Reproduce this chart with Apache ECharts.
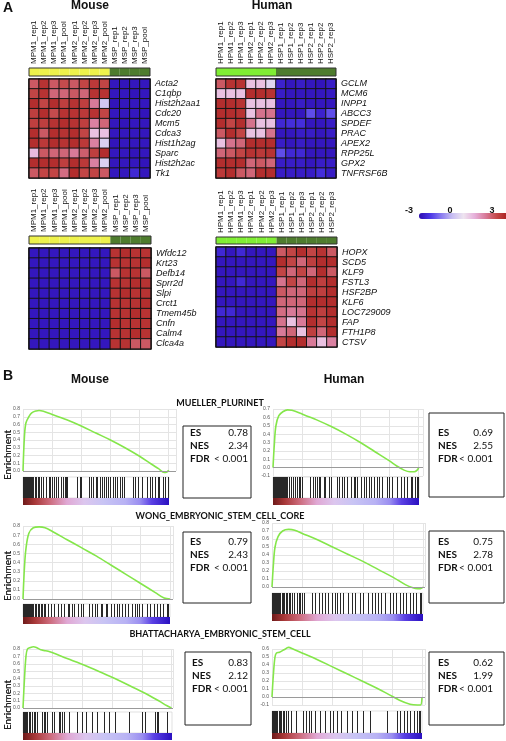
<!DOCTYPE html>
<html><head><meta charset="utf-8">
<script src="https://cdn.jsdelivr.net/npm/echarts@6/dist/echarts.min.js"></script>
<style>html,body{margin:0;padding:0;background:#fff}#c{width:506px;height:741px}</style>
</head><body><div id="c"></div>
<script>
// ---------------- DATA ----------------
const mouseCols = ['MPM1_rep1','MPM1_rep2','MPM1_rep3','MPM1_pool','MPM2_rep1','MPM2_rep2','MPM2_rep3','MPM2_pool','MSP_rep1','MSP_rep2','MSP_rep3','MSP_pool'];
const mouseGroups = ['PM','PM','PM','PM','PM','PM','PM','PM','SP','SP','SP','SP'];
const humanCols = ['HPM1_rep1','HPM1_rep2','HPM1_rep3','HPM2_rep1','HPM2_rep2','HPM2_rep3','HSP1_rep1','HSP1_rep2','HSP1_rep3','HSP2_rep1','HSP2_rep2','HSP2_rep3'];
const humanGroups = ['PM','PM','PM','PM','PM','PM','SP','SP','SP','SP','SP','SP'];

const mouseUpGenes = ['Acta2','C1qbp','Hist2h2aa1','Cdc20','Mcm5','Cdca3','Hist1h2ag','Sparc','Hist2h2ac','Tk1'];
const mouseUpVals = [
  [2.0,2.6,2.0,2.2,2.0,2.3,2.5,2.3,-2.8,-2.85,-2.8,-2.8],
  [2.3,2.6,1.8,1.8,2.0,1.8,2.6,2.6,-2.8,-2.8,-2.85,-2.8],
  [2.7,2.3,2.7,2.4,2.6,2.4,1.5,-0.6,-2.85,-2.8,-2.8,-2.8],
  [2.4,2.7,2.2,2.6,2.6,2.5,2.6,2.3,-2.8,-2.8,-2.8,-2.85],
  [2.4,2.4,2.6,2.7,2.6,2.4,1.4,1.8,-2.8,-2.85,-2.8,-2.8],
  [2.7,2.0,2.7,2.6,2.7,2.3,0.5,0.5,-2.8,-2.8,-2.8,-2.8],
  [2.7,2.5,2.7,2.6,2.7,2.5,1.4,-0.4,-2.85,-2.8,-2.8,-2.8],
  [0.6,2.0,1.8,1.8,1.5,1.9,2.4,2.7,-2.8,-2.8,-2.85,-2.8],
  [2.7,2.7,2.7,2.4,2.7,2.5,1.4,-0.4,-2.8,-2.8,-2.8,-2.85],
  [2.0,2.3,2.3,1.7,2.7,2.3,2.3,2.0,-2.8,-2.8,-2.5,-2.8]
];
const humanUpGenes = ['GCLM','MCM6','INPP1','ABCC3','SPDEF','PRAC','APEX2','RPP25L','GPX2','TNFRSF6B'];
const humanUpVals = [
  [2.0,2.6,2.6,0.5,0.5,-0.3,-2.6,-2.8,-2.7,-2.8,-2.85,-2.7],
  [0.5,0.5,0.5,2.7,2.7,2.6,-2.7,-2.8,-2.8,-2.8,-2.8,-2.75],
  [2.7,2.7,2.6,0.5,0.5,0.5,-2.8,-2.8,-2.7,-2.8,-2.8,-2.8],
  [2.7,2.7,2.6,0.5,1.6,1.6,-2.8,-2.8,-2.8,-2.0,-2.6,-2.0],
  [2.7,2.3,2.7,1.6,0.5,0.5,-2.5,-2.4,-2.4,-2.8,-2.8,-2.7],
  [2.0,2.7,2.3,0.5,0.5,1.6,-2.8,-2.8,-2.7,-2.7,-2.8,-2.7],
  [0.5,1.6,1.8,2.7,2.7,2.7,-2.7,-2.8,-2.7,-2.8,-2.8,-2.8],
  [1.8,2.0,2.3,2.6,2.5,2.6,-2.0,-2.5,-2.5,-2.8,-2.8,-2.8],
  [2.7,2.7,2.7,1.8,2.0,1.8,-2.7,-2.7,-2.7,-2.8,-2.7,-2.7],
  [2.5,2.7,2.0,1.8,2.7,2.7,-2.7,-2.7,-2.7,-2.7,-2.4,-2.7]
];
const mouseDownGenes = ['Wfdc12','Krt23','Defb14','Sprr2d','Slpi','Crct1','Tmem45b','Cnfn','Calm4','Clca4a'];
const mouseDownVals = [
  [-2.8,-2.8,-2.8,-2.8,-2.8,-2.8,-2.8,-2.8,2.6,2.7,2.6,2.6],
  [-2.8,-2.8,-2.8,-2.8,-2.8,-2.8,-2.8,-2.8,2.6,2.6,2.6,2.7],
  [-2.8,-2.8,-2.8,-2.8,-2.8,-2.8,-2.8,-2.8,2.0,2.6,2.6,2.0],
  [-2.8,-2.8,-2.8,-2.8,-2.8,-2.8,-2.8,-2.8,2.6,2.6,2.7,2.6],
  [-2.8,-2.8,-2.8,-2.8,-2.8,-2.8,-2.8,-2.8,2.6,2.7,2.6,2.6],
  [-2.8,-2.8,-2.8,-2.8,-2.8,-2.8,-2.8,-2.8,2.6,2.6,2.6,2.7],
  [-2.8,-2.8,-2.8,-2.8,-2.8,-2.8,-2.8,-2.8,2.6,2.6,2.7,2.6],
  [-2.8,-2.8,-2.8,-2.8,-2.8,-2.8,-2.8,-2.8,2.7,2.6,2.6,2.6],
  [-2.8,-2.8,-2.8,-2.8,-2.8,-2.8,-2.8,-2.8,2.6,2.6,2.7,2.6],
  [-2.8,-2.8,-2.8,-2.8,-2.8,-2.8,-2.8,-2.8,2.6,2.6,2.0,2.0]
];
const humanDownGenes = ['HOPX','SCD5','KLF9','FSTL3','HSF2BP','KLF6','LOC729009','FAP','FTH1P8','CTSV'];
const humanDownVals = [
  [-2.5,-2.8,-2.5,-2.8,-2.8,-2.8,2.0,2.3,2.7,2.3,2.6,2.0],
  [-2.8,-2.8,-2.8,-2.8,-2.8,-2.8,2.7,2.3,1.8,2.4,2.7,2.7],
  [-2.8,-2.8,-2.8,-2.8,-2.8,-2.8,2.3,1.8,2.3,1.8,2.7,2.0],
  [-2.8,-2.8,-2.5,-2.8,-2.8,-2.8,1.6,2.3,1.8,2.7,2.4,2.7],
  [-2.8,-2.8,-2.8,-2.8,-2.8,-2.8,2.0,1.8,1.8,2.4,2.4,2.7],
  [-2.8,-2.8,-2.8,-2.8,-2.8,-2.8,1.8,1.8,1.8,2.7,2.7,2.7],
  [-2.5,-2.5,-2.8,-2.8,-2.8,-2.8,1.7,1.5,1.6,2.6,2.4,2.7],
  [-2.8,-2.8,-2.8,-2.8,-2.8,-2.8,1.6,0.5,1.5,2.7,2.3,2.7],
  [-2.8,-2.8,-2.8,-2.8,-2.8,-2.8,1.5,1.8,0.5,2.4,1.8,2.7],
  [-2.8,-2.8,-2.8,-2.8,-2.8,-2.8,2.3,2.7,2.7,1.5,0.5,1.4]
];
const scaleTicks = ['-3','0','3'];

// GSEA
const geneSets = ['MUELLER_PLURINET','WONG_EMBRYONIC_STEM_CELL_CORE','BHATTACHARYA_EMBRYONIC_STEM_CELL'];
const mouseES = ['0.78','0.79','0.83'];
const mouseNES = ['2.34','2.43','2.12'];
const mouseFDR = ['< 0.001','< 0.001','< 0.001'];
const humanES = ['0.69','0.75','0.62'];
const humanNES = ['2.55','2.78','1.99'];
const humanFDR = ['< 0.001','< 0.001','< 0.001'];

// running enrichment score, [rank %, ES]
const mouseCurve1 = [[0,0],[1,0.45],[2,0.62],[4,0.70],[6,0.75],[9,0.775],[11,0.78],[14,0.77],[20,0.73],[30,0.66],[40,0.58],[50,0.49],[60,0.40],[70,0.30],[80,0.19],[88,0.09],[93,0.03],[97,-0.02],[99,-0.01],[100,0.01]];
const humanCurve1 = [[0,0],[1,0.3],[2,0.5],[4,0.62],[7,0.67],[10,0.69],[13,0.685],[20,0.64],[30,0.57],[40,0.49],[50,0.40],[60,0.30],[70,0.19],[80,0.08],[85,0.02],[90,-0.03],[94,-0.05],[97,-0.05],[99,-0.03],[100,0.0]];
const mouseCurve2 = [[0,0],[1,0.35],[2,0.55],[4,0.72],[7,0.78],[11,0.79],[15,0.78],[20,0.74],[30,0.65],[40,0.56],[50,0.47],[60,0.37],[70,0.27],[80,0.17],[90,0.07],[96,0.01],[100,0.0]];
const humanCurve2 = [[0,0],[1,0.3],[2,0.5],[4,0.63],[7,0.70],[11,0.72],[15,0.71],[20,0.67],[30,0.59],[40,0.50],[50,0.41],[60,0.32],[70,0.22],[80,0.12],[88,0.03],[93,-0.01],[96,-0.02],[98,-0.02],[100,0.0]];
const mouseCurve3 = [[0,0],[1,0.4],[2,0.7],[3,0.8],[5,0.82],[7,0.83],[9,0.82],[12,0.79],[14,0.78],[17,0.77],[25,0.71],[35,0.63],[45,0.55],[55,0.46],[65,0.37],[75,0.27],[85,0.17],[92,0.09],[97,0.03],[100,0.0]];
const humanCurve3 = [[0,0],[1,0.3],[2,0.5],[3,0.55],[5,0.56],[8,0.59],[11,0.62],[14,0.6],[20,0.55],[30,0.47],[40,0.38],[50,0.29],[60,0.2],[70,0.11],[78,0.03],[85,-0.04],[92,-0.09],[97,-0.1],[99,-0.1],[100,0.0]];

// hit positions (rank %)
const mouseHits1 = [0,0.7,1.4,2.1,2.8,3.5,4.2,4.9,5.6,6.3,7,8,9,10,11,12,13.7,16,17.8,18.8,20.1,21.3,22.9,24,25.9,27.5,28.6,29.7,30.4,37.1,38.9,40,45.3,46.9,48,49.9,51,52.6,53.8,55.4,56.8,58.4,59.5,61.8,62.9,64.5,66.4,67.5,69.1,75.5,76.7,79,81.2,84.7,87,88.1,90.4,92.7,93.4,96.1,97.3,99.1];
const humanHits1 = [0,0.7,1.4,2.1,2.8,3.5,4.2,4.9,5.6,6.3,7,7.7,8.4,9.1,9.6,10.8,12.4,13.7,15.3,16.5,17.6,18.8,19.9,25.6,27.5,29.1,30.2,31.4,32.5,34.8,35.9,38.2,39.4,43.9,45.1,47.4,48.5,50.8,53.1,55.4,56.5,57.7,60,62.2,63.4,65.7,66.8,69.1,70.9,72.5,74.8,78.3,79.4,81.7,85.1,87.4,89.7,92,94.3,95.4,97,98.4,99.5];
const mouseHits2 = [0,0.7,1.4,2.1,2.8,3.5,4.2,4.9,5.6,6.3,7,8,9,10,11,12,13,14,15,16.9,19.1,21.3,23.6,25.8,28.1,30.3,31.5,33,34.8,37.1,39.3,41.1,44.9,47.2,48.8,50.6,52.8,53.9,56.2,57.3,59.6,61.8,64,65.2,67.4,69.7,71.2,74.2,76.4,77.5,78.7,80.9,84.3,86.5,88.8,91,93.3,95.5,97.8,98.9];
const humanHits2 = [0,0.7,1.4,2.1,2.8,3.5,4.2,4.9,5.6,6.3,7,8,9,10,11,12,13.2,14.3,16.5,17.6,18.7,19.8,20.9,26.4,28.6,30.8,33,35.2,37.4,39.6,41.8,43.3,45.1,47.3,50.5,52.7,54.9,58.2,60.4,63.7,65.9,68.1,70.3,72.5,74.7,78,80.2,82.4,84.6,86.8,89,91.2,93.4,95.6,97.8,98.9];
const mouseHits3 = [0,0.7,1.4,2.1,2.8,3.8,4.9,6,7.2,8.3,9.4,12.8,13.9,15,16.1,19.5,20.6,23.9,25.1,26.2,27.3,30.6,36.2,39.6,42.5,46.3,49.7,54.1,57.5,62,70.9,79.9,82.1,88.8,89.9,90.4,96.6];
const humanHits3 = [0,0.7,1.4,2.1,2.8,3.5,4.5,5.4,6.3,7.2,8.3,9.4,10.5,12.8,16.1,20.6,22.8,24.6,26.2,28.4,31.8,35.1,38.5,40.7,43,46.3,49.7,53,56.4,60.9,65.3,76.5,83.2,85.5,87.7,89.9,92.2,94.4,96.6,97.8,98.9];

// ---------------- BUILD ----------------
const chart = echarts.init(document.getElementById('c'), null, {renderer:'canvas', width:506, height:741});
const grids=[], xAxes=[], yAxes=[], series=[], graphics=[], hmIdx=[];
const AR = 'Liberation Sans', CAL = 'Lato';
function addGrid(r){ grids.push(Object.assign({containLabel:false}, r)); return grids.length-1; }

function heatmap(cols, groups, gColors, genes, vals, cell, bar){
  const gi = addGrid({left:cell.left, top:cell.top, width:cell.width, height:cell.height, show:true, borderColor:'#111', borderWidth:1.2, z:5});
  xAxes.push({gridIndex:gi, type:'category', data:cols, axisLabel:{show:false}, axisTick:{show:false}, axisLine:{show:false}, splitLine:{show:false}});
  yAxes.push({gridIndex:gi, type:'category', data:genes, inverse:true, position:'right',
    axisLabel:{interval:0, fontStyle:'italic', fontSize:9, color:'#111', margin:5, fontFamily:AR}, axisTick:{show:false}, axisLine:{show:false}});
  const data=[]; vals.forEach((row,r)=>row.forEach((v,c)=>data.push([c,r,v])));
  series.push({type:'heatmap', xAxisIndex:xAxes.length-1, yAxisIndex:yAxes.length-1, data,
    itemStyle:{borderColor:'#151515', borderWidth:1}, emphasis:{disabled:true}, silent:true});
  hmIdx.push(series.length-1);
  const bi = addGrid({left:bar.left, top:bar.top, width:bar.width, height:bar.height, show:true, borderColor:'#333', borderWidth:1, z:5});
  xAxes.push({gridIndex:bi, type:'category', data:cols, position:'top',
    axisLabel:{rotate:90, fontSize:8, margin:4, interval:0, color:'#111', fontFamily:AR}, axisTick:{show:false}, axisLine:{show:false}});
  yAxes.push({gridIndex:bi, type:'value', min:0, max:1, show:false});
  series.push({type:'bar', xAxisIndex:xAxes.length-1, yAxisIndex:yAxes.length-1, barWidth:'100%', silent:true,
    data:groups.map(g=>({value:1, itemStyle:{color:gColors[g]}}))});
}

heatmap(mouseCols, mouseGroups, {PM:'#eef24c', SP:'#4e7c2e'}, mouseUpGenes, mouseUpVals,
  {left:29, top:79, width:121, height:99}, {left:29, top:68, width:121, height:8});
heatmap(humanCols, humanGroups, {PM:'#80ee34', SP:'#4e7c2e'}, humanUpGenes, humanUpVals,
  {left:216, top:79, width:120, height:99}, {left:216, top:68, width:120, height:8});
heatmap(mouseCols, mouseGroups, {PM:'#eef24c', SP:'#4e7c2e'}, mouseDownGenes, mouseDownVals,
  {left:29, top:248, width:122, height:101}, {left:29, top:236, width:122, height:8});
heatmap(humanCols, humanGroups, {PM:'#80ee34', SP:'#4e7c2e'}, humanDownGenes, humanDownVals,
  {left:216, top:247, width:121, height:100}, {left:216, top:237, width:121, height:7});

const stripGrad = () => new echarts.graphic.LinearGradient(0,0,1,0,[
  {offset:0,color:'#6e1a1a'},{offset:0.08,color:'#a83838'},{offset:0.18,color:'#cc6a7a'},{offset:0.3,color:'#e0a8d4'},
  {offset:0.42,color:'#dcc6ee'},{offset:0.55,color:'#c8c4f4'},{offset:0.7,color:'#b8b2f4'},{offset:0.8,color:'#9a8ef0'},
  {offset:0.88,color:'#5a40e4'},{offset:1,color:'#2a10c0'}]);

function gsea(curve, hits, L, stats){
  const gi = addGrid(L.line);
  xAxes.push({gridIndex:gi, type:'value', min:0, max:L.xmax, interval:20, axisLabel:{show:false}, axisTick:{show:false}, axisLine:{show:false},
    splitLine:{lineStyle:{color:'#e4e4e4', width:1}}});
  yAxes.push({gridIndex:gi, type:'value', min:L.ymin, max:L.ymax, interval:0.1,
    axisLabel:{fontSize:5, color:'#555', margin:3, formatter:v=>v.toFixed(1)}, axisTick:{show:false}, axisLine:{show:false},
    splitLine:{lineStyle:{color:'#e4e4e4'}}});
  series.push({type:'line', xAxisIndex:xAxes.length-1, yAxisIndex:yAxes.length-1, data:curve, smooth:0.35, showSymbol:false, clip:false,
    lineStyle:{color:'#84e64a', width:1.6}, silent:true,
    markLine:{silent:true, symbol:'none', label:{show:false}, lineStyle:{color:'#9a9a9a', width:1, type:'solid'}, data:[{yAxis:0}]}});
  const hi = addGrid(Object.assign({show:true, borderColor:'#cfcfcf', borderWidth:0.6}, L.hits));
  xAxes.push({gridIndex:hi, type:'value', min:0, max:100, show:false});
  yAxes.push({gridIndex:hi, type:'value', min:0, max:1, show:false});
  series.push({type:'custom', xAxisIndex:xAxes.length-1, yAxisIndex:yAxes.length-1, silent:true,
    data:hits.map(h=>[h,1]), encode:{x:0,y:1},
    renderItem:(params, api)=>{
      const x = Math.round(api.coord([api.value(0),0])[0]); const cs = params.coordSys;
      return {type:'rect', shape:{x:x, y:cs.y, width:1, height:cs.height}, style:{fill:'#111', opacity:0.9}};
    }});
  const si = addGrid(L.strip);
  xAxes.push({gridIndex:si, type:'category', data:['rank'], show:false});
  yAxes.push({gridIndex:si, type:'value', min:0, max:1, show:false});
  series.push({type:'bar', xAxisIndex:xAxes.length-1, yAxisIndex:yAxes.length-1, barWidth:'100%', silent:true,
    data:[1], itemStyle:{color:stripGrad()}});
  // stats box
  const b = L.box;
  graphics.push({type:'rect', shape:{x:b.x, y:b.y, width:b.w, height:b.h}, style:{fill:'#fff', stroke:'#222', lineWidth:1}, z:10});
  const labs = ['ES','NES','FDR'];
  labs.forEach((lab,i)=>{
    const y = L.textY + i*13;
    graphics.push({type:'text', x:b.x+L.labX, y, z:11, style:{text:lab, fontFamily:CAL, fontWeight:'bold', fontSize:10, fill:'#111', align:'left', verticalAlign:'middle'}});
    graphics.push({type:'text', x:b.x+L.valX, y, z:11, style:{text:stats[i], fontFamily:CAL, fontSize:10, fill:'#111', align:'right', verticalAlign:'middle'}});
  });
  graphics.push({type:'text', x:8, y:L.enrY, rotation:Math.PI/2, style:{text:'Enrichment', fontFamily:CAL, fontSize:10, fill:'#222', align:'center', verticalAlign:'middle'}});
}

const layouts = [
  {line:{left:23,top:409,width:153,height:62}, xmax:105, ymin:0, ymax:0.8, hits:{left:23,top:477,width:146,height:21}, strip:{left:23,top:498,width:146,height:7},
   box:{x:183,y:426,w:68,h:72}, textY:433, labX:7, valX:65, enrY:455},
  {line:{left:273,top:409,width:150,height:67}, xmax:103, ymin:-0.1, ymax:0.7, hits:{left:273,top:477,width:146,height:21}, strip:{left:273,top:498,width:146,height:7},
   box:{x:429,y:413,w:75,h:84}, textY:433, labX:9, valX:64, enrY:455},
  {line:{left:23,top:526,width:150,height:73}, xmax:102, ymin:0, ymax:0.8, hits:{left:23,top:604,width:147,height:13}, strip:{left:23,top:617,width:147,height:7},
   box:{x:183,y:532,w:68,h:71}, textY:542, labX:7, valX:65, enrY:576},
  {line:{left:272,top:523,width:153,height:64}, xmax:101, ymin:0, ymax:0.8, hits:{left:272,top:593,width:151,height:21}, strip:{left:272,top:614,width:151,height:7},
   box:{x:429,y:531,w:75,h:72}, textY:542, labX:9, valX:64, enrY:576},
  {line:{left:23,top:649,width:150,height:59}, xmax:101, ymin:0, ymax:0.8, hits:{left:23,top:712,width:149,height:21}, strip:{left:23,top:733,width:149,height:7},
   box:{x:185,y:652,w:66,h:73}, textY:663, labX:7, valX:63, enrY:705},
  {line:{left:272,top:649,width:153,height:56}, xmax:102, ymin:-0.1, ymax:0.6, hits:{left:272,top:711,width:150,height:22}, strip:{left:272,top:733,width:150,height:6},
   box:{x:429,y:652,w:75,h:73}, textY:663, labX:9, valX:64, enrY:705}
];
const curves = [mouseCurve1, humanCurve1, mouseCurve2, humanCurve2, mouseCurve3, humanCurve3];
const hitsAll = [mouseHits1, humanHits1, mouseHits2, humanHits2, mouseHits3, humanHits3];
for (let r=0; r<3; r++){
  gsea(curves[2*r], hitsAll[2*r], layouts[2*r], [mouseES[r], mouseNES[r], mouseFDR[r]]);
  gsea(curves[2*r+1], hitsAll[2*r+1], layouts[2*r+1], [humanES[r], humanNES[r], humanFDR[r]]);
}
const setTitleY = [403, 516, 634];
geneSets.forEach((s,i)=>graphics.push({type:'text', x:220, y:setTitleY[i], style:{text:s, fontFamily:CAL, fontWeight:'bold', fontSize:9, fill:'#111', align:'center', verticalAlign:'middle'}}));

const T = (text,x,y,size,align)=>graphics.push({type:'text', x, y, style:{text, fontFamily:AR, fontWeight:'bold', fontSize:size, fill:'#111', align:align||'center', verticalAlign:'middle'}});
T('A', 3, 8, 14, 'left'); T('Mouse', 90, 6, 12); T('Human', 272, 6, 12);
T('B', 3, 376, 14, 'left'); T('Mouse', 90, 380, 12); T('Human', 344, 380, 12);
const tickX = [409, 450, 492];
scaleTicks.forEach((t,i)=>T(t, tickX[i], 211, 9));

chart.setOption({
  animation:false,
  backgroundColor:'#fff',
  grid:grids, xAxis:xAxes, yAxis:yAxes, series,
  visualMap:{type:'continuous', min:-3, max:3, orient:'horizontal', left:404, top:198, itemWidth:6, itemHeight:89,
    showLabel:false, text:null, calculable:false, seriesIndex:hmIdx, realtime:false,
    inRange:{color:['#2c0cb0','#4a36e6','#8a7cf0','#c8bff2','#eee4f0','#e6b0da','#d87a98','#c44848','#a81c1c']}},
  graphic:graphics
});
</script></body></html>
